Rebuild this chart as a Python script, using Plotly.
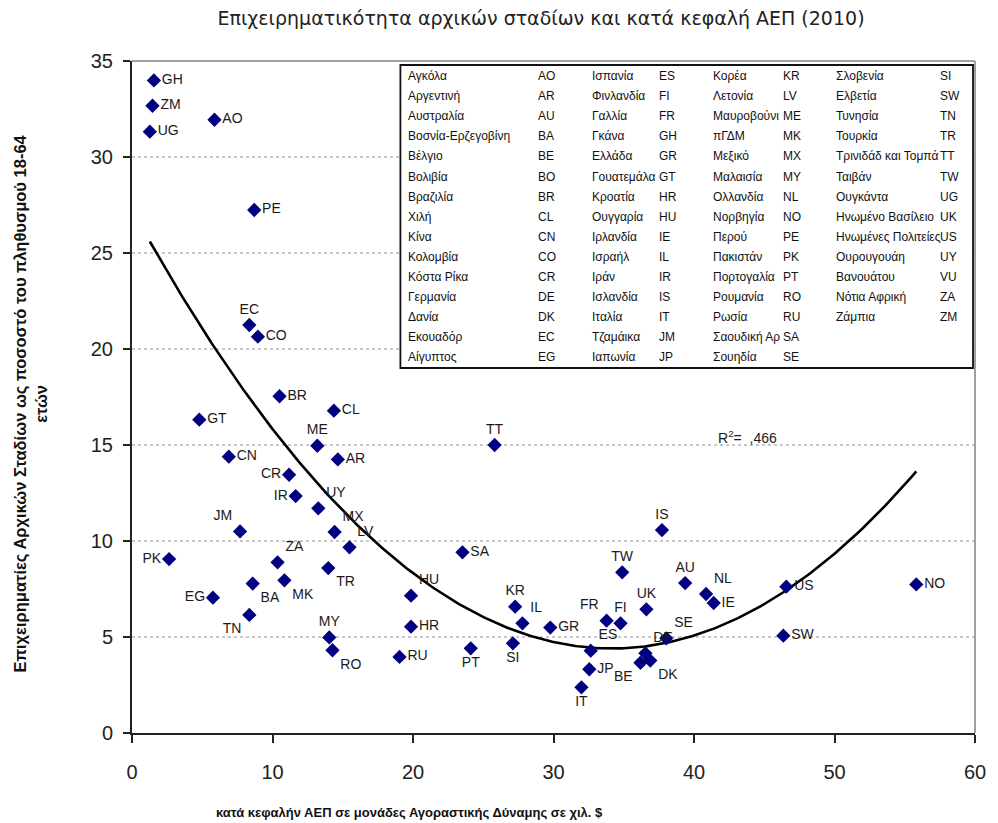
import numpy as np
import plotly.graph_objects as go

# ---------------- data ----------------
codes = ["GH", "ZM", "UG", "AO", "PE", "EC", "CO", "BR", "GT", "CL", "ME", "CN", "AR", "CR",
         "IR", "UY", "MX", "LV", "JM", "PK", "ZA", "TR", "BA", "MK", "EG", "TN", "MY", "RO",
         "HU", "HR", "RU", "TT", "SA", "PT", "SI", "KR", "IL", "GR", "FR", "FI", "UK", "TW",
         "IS", "AU", "NL", "IE", "US", "NO", "SW", "SE", "ES", "JP", "IT", "DE", "BE", "DK"]
gdp_pc = [1.56, 1.46, 1.27, 5.87, 8.70, 8.35, 8.96, 10.50, 4.79, 14.37, 13.19, 6.89, 14.65, 11.18,
          11.65, 13.26, 14.42, 15.48, 7.69, 2.64, 10.36, 13.97, 8.59, 10.85, 5.76, 8.35, 14.04, 14.27,
          19.86, 19.86, 19.04, 25.81, 23.52, 24.11, 27.11, 27.27, 27.79, 29.77, 33.78, 34.77, 36.61, 34.89,
          37.72, 39.37, 40.86, 41.40, 46.57, 55.82, 46.36, 38.03, 32.65, 32.55, 31.99, 36.54, 36.19, 36.89]
tea = [33.99, 32.67, 31.32, 31.94, 27.24, 21.25, 20.64, 17.54, 16.32, 16.79, 14.96, 14.39, 14.25, 13.45,
       12.34, 11.70, 10.47, 9.67, 10.50, 9.06, 8.89, 8.59, 7.78, 7.95, 7.05, 6.15, 4.98, 4.31,
       7.15, 5.54, 3.96, 15.00, 9.41, 4.41, 4.67, 6.58, 5.71, 5.49, 5.85, 5.71, 6.44, 8.37,
       10.57, 7.81, 7.24, 6.77, 7.62, 7.74, 5.07, 4.93, 4.29, 3.32, 2.38, 4.15, 3.66, 3.77]

# quadratic trend line as drawn in the reference: y = c0 + c1*x + c2*x^2
fit_coef = [27.27, -1.3397, 0.01962]
r2_text = ",466"

legend_names = [
    ["Αγκόλα", "Αργεντινή", "Αυστραλία", "Βοσνία-Ερζεγοβίνη", "Βέλγιο", "Βολιβία", "Βραζιλία", "Χιλή",
     "Κίνα", "Κολομβία", "Κόστα Ρίκα", "Γερμανία", "Δανία", "Εκουαδόρ", "Αίγυπτος"],
    ["Ισπανία", "Φινλανδία", "Γαλλία", "Γκάνα", "Ελλάδα", "Γουατεμάλα", "Κροατία", "Ουγγαρία",
     "Ιρλανδία", "Ισραήλ", "Ιράν", "Ισλανδία", "Ιταλία", "Τζαμάικα", "Ιαπωνία"],
    ["Κορέα", "Λετονία", "Μαυροβούνι", "πΓΔΜ", "Μεξικό", "Μαλαισία", "Ολλανδία", "Νορβηγία",
     "Περού", "Πακιστάν", "Πορτογαλία", "Ρουμανία", "Ρωσία", "Σαουδική Αρ", "Σουηδία"],
    ["Σλοβενία", "Ελβετία", "Τυνησία", "Τουρκία", "Τρινιδάδ και Τομπά", "Ταιβάν", "Ουγκάντα",
     "Ηνωμένο Βασίλειο", "Ηνωμένες Πολιτείες", "Ουρουγουάη", "Βανουάτου", "Νότια Αφρική", "Ζάμπια"],
]
legend_codes = [
    ["AO", "AR", "AU", "BA", "BE", "BO", "BR", "CL", "CN", "CO", "CR", "DE", "DK", "EC", "EG"],
    ["ES", "FI", "FR", "GH", "GR", "GT", "HR", "HU", "IE", "IL", "IR", "IS", "IT", "JM", "JP"],
    ["KR", "LV", "ME", "MK", "MX", "MY", "NL", "NO", "PE", "PK", "PT", "RO", "RU", "SA", "SE"],
    ["SI", "SW", "TN", "TR", "TT", "TW", "UG", "UK", "US", "UY", "VU", "ZA", "ZM"],
]

x_ticks = [0, 10, 20, 30, 40, 50, 60]
y_ticks = [0, 5, 10, 15, 20, 25, 30, 35]

# ---------------- styling (label placement) ----------------
label_pos = {
    "GH": "middle right", "ZM": "middle right", "UG": "middle right", "AO": "middle right",
    "PE": "middle right", "EC": "top center", "CO": "middle right", "BR": "middle right",
    "GT": "middle right", "CL": "middle right", "ME": "top center", "CN": "middle right",
    "AR": "middle right", "CR": "middle left", "IR": "middle left", "UY": "top right",
    "MX": "top right", "LV": "top right", "JM": "top left", "PK": "middle left",
    "ZA": "top right", "TR": "bottom right", "BA": "bottom right", "MK": "bottom right",
    "EG": "middle left", "TN": "bottom left", "MY": "top center", "RO": "bottom right",
    "HU": "top right", "HR": "middle right", "RU": "middle right", "TT": "top center",
    "SA": "middle right", "PT": "bottom center", "SI": "bottom center", "KR": "top center",
    "IL": "top right", "GR": "middle right", "FR": "top left", "FI": "top center",
    "UK": "top center", "TW": "top center", "IS": "top center", "AU": "top center",
    "NL": "top right", "IE": "middle right", "US": "middle right", "NO": "middle right",
    "SW": "middle right", "SE": "top right", "ES": "top right", "JP": "middle right",
    "IT": "bottom center", "DE": "top right", "BE": "bottom left", "DK": "bottom right",
}

# page body has an 8px margin; lay out in window pixels and convert
OFF = 8
W, H = 998 - OFF, 823 - OFF
PLOT_L, PLOT_R, PLOT_T, PLOT_B = 132, 980, 61, 733   # window pixels
ML, MT = PLOT_L - OFF, PLOT_T - OFF
MR, MB = W - (PLOT_R - OFF), H - (PLOT_B - OFF)
PW, PH = PLOT_R - PLOT_L, PLOT_B - PLOT_T


def px_to_paper_x(px):
    return (px - PLOT_L) / PW


def px_to_paper_y(py):
    return (PLOT_B - py) / PH


ARIAL = "Liberation Sans, Arial, sans-serif"

fig = go.Figure()

xs = np.linspace(min(gdp_pc), max(gdp_pc), 300)
ys = fit_coef[0] + fit_coef[1] * xs + fit_coef[2] * xs ** 2
fig.add_trace(go.Scatter(x=xs, y=ys, mode="lines",
                         line=dict(color="black", width=2.6), hoverinfo="skip", showlegend=False))

fig.add_trace(go.Scatter(
    x=gdp_pc, y=tea, mode="markers+text", text=codes,
    textposition=[label_pos[c] for c in codes],
    textfont=dict(family=ARIAL, size=14, color="#1a1a1a"),
    marker=dict(symbol="diamond", size=11, color="#000080"),
    showlegend=False,
))

annotations = []
annotations.append(dict(x=41.6, y=15.4, xref="x", yref="y", xanchor="left", yanchor="middle",
                        text="R<sup>2</sup>=  " + r2_text, showarrow=False,
                        font=dict(family=ARIAL, size=14, color="#1a1a1a")))

name_cols_px = [408, 593, 714, 838]
code_cols_px = [538, 660, 785, 943]
row0_px, row_step = 76, 20.1
for ci in range(4):
    for ri, (nm, cd) in enumerate(zip(legend_names[ci], legend_codes[ci])):
        ypx = row0_px + ri * row_step
        annotations.append(dict(x=px_to_paper_x(name_cols_px[ci]), y=px_to_paper_y(ypx),
                                xref="paper", yref="paper", xanchor="left", yanchor="middle",
                                text=nm, showarrow=False,
                                font=dict(family=ARIAL, size=12, color="#111")))
        annotations.append(dict(x=px_to_paper_x(code_cols_px[ci]), y=px_to_paper_y(ypx),
                                xref="paper", yref="paper", xanchor="left", yanchor="middle",
                                text=cd, showarrow=False,
                                font=dict(family=ARIAL, size=12, color="#111")))

annotations.append(dict(x=px_to_paper_x(29), y=px_to_paper_y(404), xref="paper", yref="paper",
                        text="Επιχειρηματίες Αρχικών Σταδίων ως ποσοστό του πληθυσμού 18-64<br>ετών",
                        textangle=-90, showarrow=False, xanchor="center", yanchor="middle",
                        font=dict(family=ARIAL, size=16.5, color="#111", weight="bold")))
annotations.append(dict(x=px_to_paper_x(411), y=px_to_paper_y(812), xref="paper", yref="paper",
                        text="κατά κεφαλήν ΑΕΠ σε μονάδες Αγοραστικής Δύναμης σε χιλ. $",
                        showarrow=False, xanchor="center", yanchor="middle",
                        font=dict(family=ARIAL, size=13, color="#111", weight="bold")))

shapes = [
    dict(type="line", xref="paper", yref="paper", x0=0, x1=1, y0=1, y1=1,
         line=dict(color="#a0a0a0", width=2)),
    dict(type="line", xref="paper", yref="paper", x0=1, x1=1, y0=0, y1=1,
         line=dict(color="#a0a0a0", width=2)),
    dict(type="rect", xref="paper", yref="paper", layer="above",
         x0=px_to_paper_x(402), x1=px_to_paper_x(978), y0=px_to_paper_y(368), y1=px_to_paper_y(65),
         line=dict(color="#111", width=1.8), fillcolor="white"),
]

fig.update_layout(
    width=W, height=H, autosize=False,
    margin=dict(l=ML, r=MR, t=MT, b=MB),
    paper_bgcolor="white", plot_bgcolor="white",
    title=dict(text="Επιχειρηματικότητα αρχικών σταδίων και κατά κεφαλή ΑΕΠ (2010)",
               x=(541 - OFF) / W, xanchor="center", y=1 - (18 - OFF) / H, yanchor="middle",
               font=dict(family="DejaVu Sans, sans-serif", size=19, color="#222")),
    xaxis=dict(range=[0, 60], tickvals=x_ticks, showgrid=False, zeroline=False,
               showline=True, linecolor="#222", linewidth=2,
               ticks="outside", ticklen=8, tickwidth=2, tickcolor="#222",
               tickfont=dict(family=ARIAL, size=20, color="#222"), ticklabelstandoff=12),
    yaxis=dict(range=[0, 35], tickvals=y_ticks, showgrid=True, gridcolor="#c8c8c8",
               griddash="dot", gridwidth=1.5, zeroline=False,
               showline=True, linecolor="#222", linewidth=2,
               ticks="outside", ticklen=7, tickwidth=2, tickcolor="#222",
               tickfont=dict(family=ARIAL, size=20, color="#222"), ticklabelstandoff=6),
    annotations=annotations,
    shapes=shapes,
)

fig.write_html("out.html")
